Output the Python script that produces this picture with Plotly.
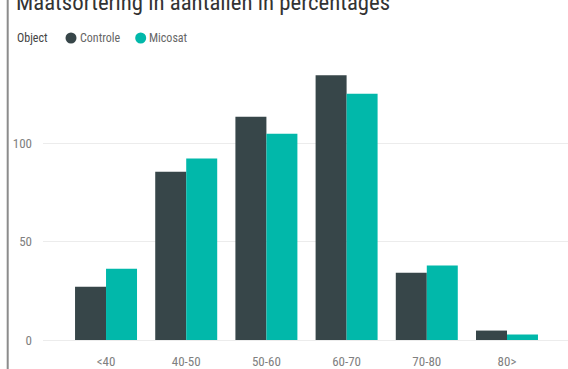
import plotly.graph_objects as go

categories = ["<40", "40-50", "50-60", "60-70", "70-80", "80>"]
controle = [27.1, 85.6, 113.6, 134.7, 34.2, 4.8]
micosat = [36.3, 92.4, 104.9, 125.3, 37.9, 2.8]
series_names = ["Controle", "Micosat"]
colors = ["#374649", "#01B8AA"]
y_ticks = [0, 50, 100]

FONT = "Roboto Condensed, DejaVu Sans Condensed, sans-serif"
W, H = 568, 369
L, R, T, B = 43, 0, 55, 29
PW, PH = W - L - R, H - T - B


def px(x):
    return (x - L) / PW


def py(y):
    return (H - B - y) / PH


fig = go.Figure()
fig.add_trace(go.Bar(x=categories, y=controle, name=series_names[0], marker_color=colors[0], marker_line_width=0))
fig.add_trace(go.Bar(x=categories, y=micosat, name=series_names[1], marker_color=colors[1], marker_line_width=0))

# title (cut off at top, as in the reference)
fig.add_annotation(text="Maatsortering in aantallen in percentages", xref="paper", yref="paper",
                   x=px(14), y=py(2.5), xanchor="left", yanchor="middle", showarrow=False,
                   font=dict(family=FONT, size=22.8, color="#333333"))

# legend
fig.add_annotation(text="Object", xref="paper", yref="paper", x=px(15), y=py(38), xanchor="left",
                   yanchor="middle", showarrow=False, font=dict(family=FONT, size=12, color="#444444"))
shapes = []
for name, col, cx, tx in zip(series_names, colors, [71, 140.7], [77.7, 146.7]):
    r = 5.5
    shapes.append(dict(type="circle", xref="paper", yref="paper", x0=px(cx - r), x1=px(cx + r),
                       y0=py(38 + r), y1=py(38 - r), fillcolor=col, line_width=0))
    fig.add_annotation(text=name, xref="paper", yref="paper", x=px(tx), y=py(38), xanchor="left",
                       yanchor="middle", showarrow=False, font=dict(family=FONT, size=12, color="#666666"))

# left border line
shapes.append(dict(type="line", xref="paper", yref="paper", x0=px(7.7), x1=px(7.7), y0=py(H), y1=py(0),
                   line=dict(color="#8c8c8c", width=2)))

fig.update_layout(
    width=W, height=H,
    margin=dict(l=L, r=R, t=T, b=B, pad=0),
    plot_bgcolor="white", paper_bgcolor="white",
    barmode="group", bargap=0.227, bargroupgap=0,
    showlegend=False,
    shapes=shapes,
    font=dict(family=FONT),
    xaxis=dict(range=[-0.786, 5.761], showgrid=False, showline=False, zeroline=False,
               ticks="", ticklabelstandoff=12, tickfont=dict(family=FONT, size=13, color="#808080")),
    yaxis=dict(range=[0, PH / 1.965], tickvals=y_ticks, showgrid=True, gridcolor="#ececec", gridwidth=1,
               zeroline=True, zerolinecolor="#ececec", zerolinewidth=1, showline=False, ticks="",
               ticklabelstandoff=10, tickfont=dict(family=FONT, size=13, color="#808080")),
)

fig.write_html("out.html")
